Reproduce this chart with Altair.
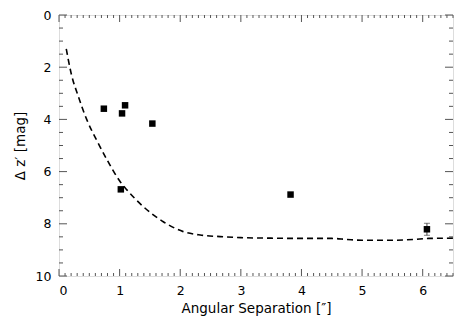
import altair as alt
import pandas as pd

# Data points
sep = [0.74, 1.04, 1.09, 1.02, 1.54, 3.82, 6.07]
dmag = [3.59, 3.77, 3.46, 6.68, 4.16, 6.88, 8.21]

# error bar on last point
err_x = [6.07]
err_lo = [7.98]
err_hi = [8.44]

# Contrast curve (dashed)
curve_x = [0.12, 0.2, 0.32, 0.46, 0.62, 0.81, 1.01, 1.12, 1.39, 1.72, 2.05, 2.33,
           2.66, 3.0, 3.5, 4.0, 4.5, 4.75, 5.0, 5.5, 5.85, 6.1, 6.5]
curve_y = [1.3, 2.23, 3.13, 4.02, 4.79, 5.62, 6.39, 6.70, 7.34, 7.92, 8.30, 8.43,
           8.49, 8.53, 8.55, 8.56, 8.56, 8.60, 8.63, 8.63, 8.60, 8.56, 8.55]

x_major = [0, 1, 2, 3, 4, 5, 6]
x_minor = [i / 10 for i in range(0, 66) if i % 10 != 0]
y_major = [0, 2, 4, 6, 8, 10]
y_minor = [i / 2 for i in range(0, 21) if i % 4 != 0]

W, H = 394, 261
FONT = "DejaVu Sans"
AX = "#555555"

xs = alt.Scale(domain=[0, 6.5], nice=False, zero=False)
ys = alt.Scale(domain=[0, 10], reverse=True, nice=False, zero=False)

x_axis = alt.Axis(values=x_major, format="d", ticks=False, domain=False, grid=False,
                  labelFont=FONT, labelFontSize=12.5, labelColor="#000",
                  labelPadding=8, title="Angular Separation [″]",
                  titleFont=FONT, titleFontSize=13.5, titleFontWeight="normal",
                  titleColor="#000", titlePadding=5)
y_axis = alt.Axis(values=y_major, format="d", ticks=False, domain=False, grid=False,
                  labelFont=FONT, labelFontSize=12.5, labelColor="#000",
                  labelPadding=8, title="Δ  z′  [mag]",
                  titleFont=FONT, titleFontSize=13.5, titleFontWeight="normal",
                  titleColor="#000", titlePadding=8)

curve_df = pd.DataFrame({"x": curve_x, "y": curve_y})
pts_df = pd.DataFrame({"x": sep, "y": dmag})
err_df = pd.DataFrame({"x": err_x, "lo": err_lo, "hi": err_hi})

curve = alt.Chart(curve_df).mark_line(
    color="black", strokeWidth=1.6, strokeDash=[6, 4], interpolate="monotone"
).encode(x=alt.X("x:Q", scale=xs, axis=x_axis), y=alt.Y("y:Q", scale=ys, axis=y_axis))

pts = alt.Chart(pts_df).mark_square(size=42, color="black", opacity=1).encode(
    x=alt.X("x:Q", scale=xs), y=alt.Y("y:Q", scale=ys))

err = alt.Chart(err_df).mark_rule(color="#444", strokeWidth=1).encode(
    x=alt.X("x:Q", scale=xs), y=alt.Y("lo:Q", scale=ys), y2="hi:Q")
cap_lo = alt.Chart(err_df).mark_tick(color="#444", orient="horizontal", size=6, thickness=1).encode(
    x=alt.X("x:Q", scale=xs), y=alt.Y("lo:Q", scale=ys))
cap_hi = alt.Chart(err_df).mark_tick(color="#444", orient="horizontal", size=6, thickness=1).encode(
    x=alt.X("x:Q", scale=xs), y=alt.Y("hi:Q", scale=ys))

def xticks(vals, length):
    df = pd.DataFrame({"x": vals})
    bot = alt.Chart(df).mark_rule(color=AX, strokeWidth=1).encode(
        x=alt.X("x:Q", scale=xs), y=alt.value(H), y2=alt.value(H - length))
    top = alt.Chart(df).mark_rule(color=AX, strokeWidth=1).encode(
        x=alt.X("x:Q", scale=xs), y=alt.value(0), y2=alt.value(length))
    return [bot, top]

def yticks(vals, length):
    df = pd.DataFrame({"y": vals})
    left = alt.Chart(df).mark_rule(color=AX, strokeWidth=1).encode(
        y=alt.Y("y:Q", scale=ys), x=alt.value(0), x2=alt.value(length))
    right = alt.Chart(df).mark_rule(color=AX, strokeWidth=1).encode(
        y=alt.Y("y:Q", scale=ys), x=alt.value(W), x2=alt.value(W - length))
    return [left, right]

layers = [curve] + xticks(x_major, 7) + xticks(x_minor, 3) + yticks(y_major, 8) + yticks(y_minor, 4) + [err, cap_lo, cap_hi, pts]

chart = alt.layer(*layers).properties(
    width=W, height=H,
    autosize=alt.AutoSizeParams(type="none"),
    padding={"left": 51, "top": 7, "right": 8, "bottom": 47},
).configure_view(stroke=AX, strokeWidth=1.5).configure(background="white")

chart.save("out.html", embed_options={"renderer": "svg", "actions": False})
